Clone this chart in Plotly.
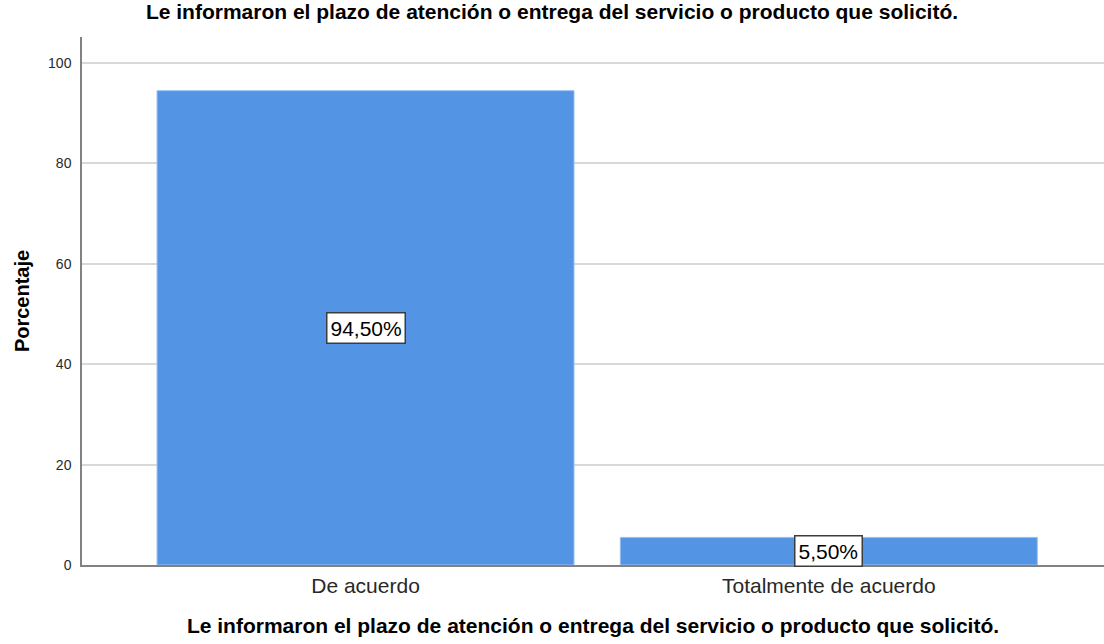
import plotly.graph_objects as go

categories = ["De acuerdo", "Totalmente de acuerdo"]
percentages = [94.5, 5.5]
label_texts = ["94,50%", "5,50%"]
y_tick_vals = [0, 20, 40, 60, 80, 100]

title_text = "Le informaron el plazo de atención o entrega del servicio o producto que solicitó."
x_title = "Le informaron el plazo de atención o entrega del servicio o producto que solicitó."
y_title = "Porcentaje"

FONT = "Liberation Sans, Arial, sans-serif"
BAR_COLOR = "rgb(84,148,228)"

fig = go.Figure()
fig.add_trace(go.Bar(
    x=[0, 1],
    y=percentages,
    width=0.9,
    marker=dict(color=BAR_COLOR, line=dict(color="rgb(150,190,240)", width=1)),
    hoverinfo="skip",
))

for i, (v, t) in enumerate(zip(percentages, label_texts)):
    fig.add_annotation(
        x=i, y=v / 2, xref="x", yref="y", text=t, showarrow=False,
        font=dict(family=FONT, size=21, color="black"),
        bgcolor="white", bordercolor="rgb(60,60,60)", borderwidth=1.5, borderpad=3,
    )

fig.update_layout(
    width=1104, height=644,
    margin=dict(l=82, r=0, t=37, b=79),
    paper_bgcolor="white", plot_bgcolor="white",
    showlegend=False,
    font=dict(family=FONT),
    title=dict(text="<b>" + title_text + "</b>", x=0.5, xanchor="center",
               y=1 - 12 / 644, yanchor="middle",
               font=dict(family=FONT, size=21, color="black")),
)

fig.update_xaxes(
    range=[-0.612, 1.594],
    tickmode="array", tickvals=[0, 1], ticktext=categories,
    tickfont=dict(family=FONT, size=21, color="rgb(40,40,40)"),
    showgrid=False, zeroline=False,
    showline=True, linecolor="rgb(130,130,130)", linewidth=1.5,
    ticks="", ticklabelstandoff=1,
    title=dict(text="<b>" + x_title + "</b>", standoff=22,
               font=dict(family=FONT, size=21, color="black")),
)
fig.update_yaxes(
    range=[0, 105.2],
    tickmode="array", tickvals=y_tick_vals,
    tickfont=dict(family=FONT, size=14, color="rgb(40,40,40)"),
    showgrid=True, gridcolor="rgb(217,217,217)", gridwidth=1.5,
    zeroline=False,
    showline=True, linecolor="rgb(130,130,130)", linewidth=1.5,
    ticks="", ticklabelstandoff=6,
    title=dict(text="<b>" + y_title + "</b>", standoff=13,
               font=dict(family=FONT, size=20, color="black")),
)

fig.write_html("out.html", config={"displayModeBar": False},
               post_script="document.body.style.margin='0';")
